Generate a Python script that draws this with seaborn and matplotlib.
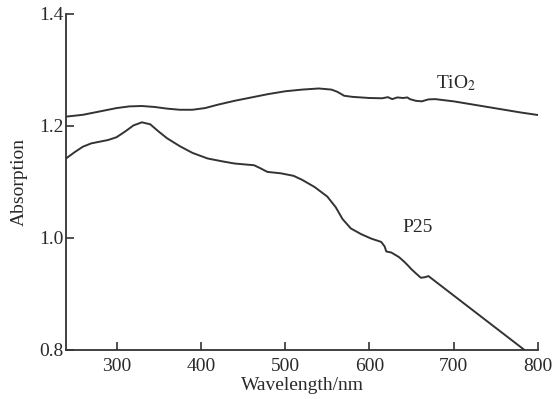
import matplotlib
matplotlib.use("Agg")
import matplotlib.pyplot as plt
import seaborn as sns
import pandas as pd

# Absorption spectra (wavelength in nm)
tio2_wl = [240, 260, 280, 300, 315, 330, 345, 360, 375, 390, 405, 420, 440, 460, 480,
           500, 520, 540, 555, 562, 570, 580, 600, 615, 622, 627, 633, 640, 645, 648,
           655, 662, 670, 678, 700, 720, 740, 760, 780, 800]
tio2_abs = [1.2167, 1.220, 1.226, 1.232, 1.235, 1.2357, 1.234, 1.231, 1.229, 1.229,
            1.232, 1.238, 1.245, 1.251, 1.257, 1.262, 1.265, 1.267, 1.265, 1.261,
            1.254, 1.252, 1.250, 1.2495, 1.2515, 1.248, 1.251, 1.250, 1.251, 1.248,
            1.245, 1.244, 1.2475, 1.248, 1.244, 1.239, 1.234, 1.229, 1.224, 1.2196]

p25_wl = [240, 250, 260, 270, 280, 290, 300, 310, 320, 330, 340, 350, 360, 375, 390,
          408, 425, 440, 455, 463, 470, 479, 495, 510, 520, 535, 550, 560, 568, 578,
          590, 602, 614, 618, 620, 626, 635, 641, 645, 650, 655, 661, 666, 670, 784]
p25_abs = [1.142, 1.153, 1.163, 1.169, 1.172, 1.175, 1.180, 1.190, 1.201, 1.2066,
           1.203, 1.190, 1.178, 1.164, 1.152, 1.142, 1.137, 1.133, 1.131, 1.130,
           1.125, 1.118, 1.1155, 1.111, 1.104, 1.091, 1.074, 1.055, 1.034, 1.017,
           1.007, 0.999, 0.993, 0.985, 0.976, 0.974, 0.966, 0.958, 0.952, 0.944,
           0.937, 0.929, 0.930, 0.932, 0.800]

x_ticks = [300, 400, 500, 600, 700, 800]
y_ticks = [0.8, 1.0, 1.2, 1.4]

df = pd.concat([
    pd.DataFrame({"wl": tio2_wl, "abs": tio2_abs, "sample": "TiO2"}),
    pd.DataFrame({"wl": p25_wl, "abs": p25_abs, "sample": "P25"}),
])

sns.set_style("ticks")
plt.rcParams["font.family"] = ["Liberation Serif", "DejaVu Serif"]
plt.rcParams["mathtext.fontset"] = "stix"

fig = plt.figure(figsize=(5.53, 3.99), dpi=100)
ax = fig.add_axes([66 / 553, 1 - 350 / 399, (538 - 66) / 553, (350 - 14) / 399])

line_color = "#333333"
text_color = "#2a2a2a"
fs = 14

sns.lineplot(data=df, x="wl", y="abs", units="sample", estimator=None, sort=False,
             color=line_color, linewidth=1.4, legend=False, ax=ax)

ax.set_xlim(240, 800)
ax.set_ylim(0.8, 1.4)
ax.set_xticks(x_ticks)
ax.set_yticks(y_ticks)
ax.set_yticklabels([f"{v:.1f}" for v in y_ticks])
ax.tick_params(direction="in", length=6, width=1.2, colors=line_color,
               labelsize=fs, labelcolor=text_color, pad=2)
ax.tick_params(axis="x", pad=6)

for side in ("top", "right"):
    ax.spines[side].set_visible(False)
for side in ("left", "bottom"):
    ax.spines[side].set_linewidth(1.3)
    ax.spines[side].set_color(line_color)

ax.set_xlabel("Wavelength/nm", fontsize=fs, color=text_color, labelpad=1)
ax.set_ylabel("Absorption", fontsize=fs, color=text_color, labelpad=8)

ax.text(679, 1.276, r"TiO$_2$", fontsize=fs, color=text_color, va="center", ha="left")
ax.text(657, 1.019, "P25", fontsize=fs, color=text_color, va="center", ha="center")

fig.savefig("out.png", dpi=100)
